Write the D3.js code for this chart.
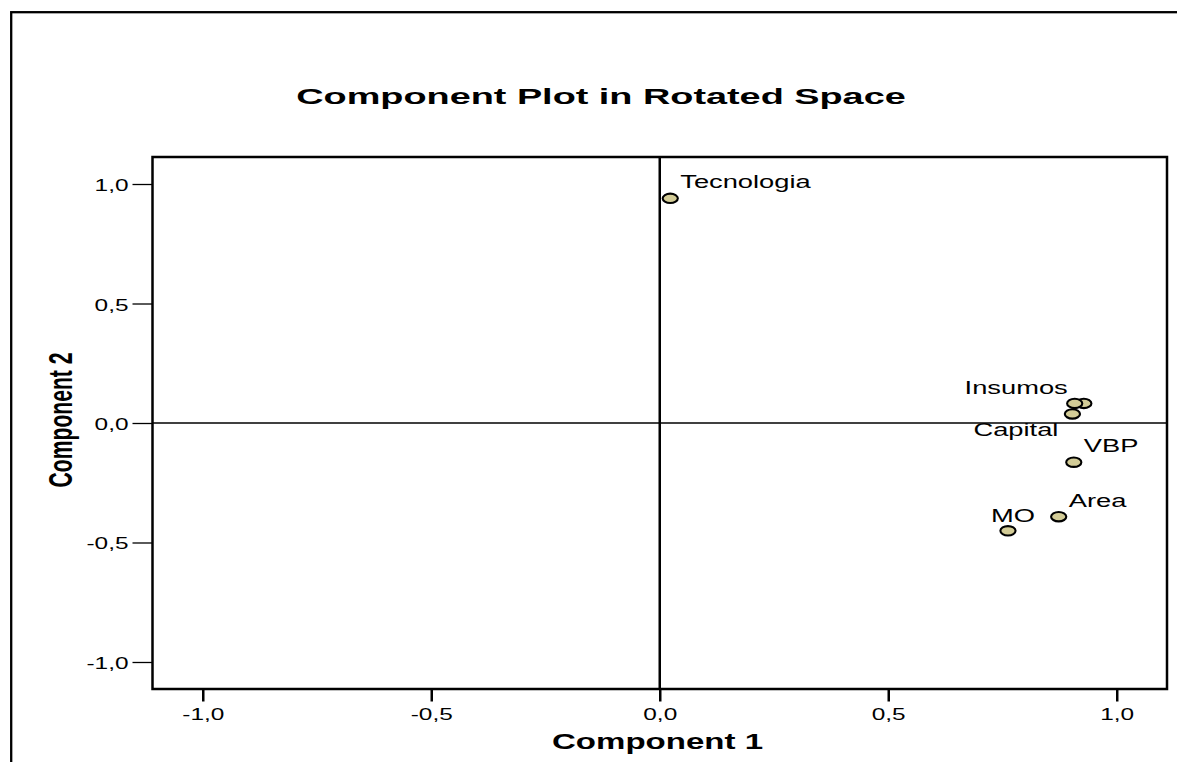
<!DOCTYPE html>
<html>
<head>
<meta charset="utf-8">
<script src="https://cdn.jsdelivr.net/npm/d3@7"></script>
<style>
  body { margin: 0; background: #fff; }
  text { font-family: "Liberation Sans", Arial, sans-serif; fill: #000; }
</style>
</head>
<body>
<div class="chart"></div>
<script>
// rotated component loadings (one label hidden by overlap in the original)
const variables = ["", "Insumos", "Capital", "Tecnologia", "VBP", "Area", "MO"];
const component1 = [0.928, 0.908, 0.903, 0.023, 0.906, 0.873, 0.762];
const component2 = [0.082, 0.082, 0.038, 0.94, -0.164, -0.392, -0.451];
const tickValues = [-1, -0.5, 0, 0.5, 1];
const tickLabels = ["-1,0", "-0,5", "0,0", "0,5", "1,0"];

// where each label sits next to its marker: [dx, dy, anchor]
const labelPlacement = [
   [0, 0, "start"],
   [-7, -9, "end"],
   [-14, 22, "end"],
   [10, -10, "start"],
   [10, -10, "start"],
   [10, -10, "start"],
   [-17, -9, "start"]
];

// setup chart
const width = 1177;
const height = 762;
const plot = { left: 152.5, right: 1167, top: 157, bottom: 689 };
// the original picture is stretched sideways
const stretch = 1.56;

const svg = d3
   .select(".chart")
   .append("svg")
   .attr("width", width)
   .attr("height", height)
   .style("display", "block");

// outer frame (cut off at right and bottom)
svg.append("rect")
   .attr("x", 11.2)
   .attr("y", 12.2)
   .attr("width", width + 100)
   .attr("height", height + 100)
   .attr("fill", "none")
   .attr("stroke", "#000")
   .attr("stroke-width", 2.3);

const xScale = d3.scaleLinear().domain([-1.11, 1.11]).range([plot.left, plot.right]);
const yScale = d3.scaleLinear().domain([-1.113, 1.113]).range([plot.bottom, plot.top]);
const fmt = (d) => tickLabels[tickValues.indexOf(d)];

// y axis
svg.append("g")
   .attr("transform", `translate(${plot.left}, 0)`)
   .call(d3.axisLeft(yScale).tickValues(tickValues).tickFormat(fmt).tickSize(20).tickSizeOuter(0))
   .call((g) => g.select(".domain").remove())
   .call((g) => g.selectAll(".tick line").attr("stroke-width", 1.3))
   .call((g) =>
      g.selectAll(".tick text")
         .attr("x", null)
         .attr("dy", null)
         .attr("font-size", 16.5)
         .attr("transform", `translate(-24, 6.5) scale(1.48, 1)`)
   );

// x axis
svg.append("g")
   .attr("transform", `translate(0, ${plot.bottom})`)
   .call(d3.axisBottom(xScale).tickValues(tickValues).tickFormat(fmt).tickSize(12.5).tickSizeOuter(0))
   .call((g) => g.select(".domain").remove())
   .call((g) => g.selectAll(".tick line").attr("stroke-width", 2.5))
   .call((g) =>
      g.selectAll(".tick text")
         .attr("y", null)
         .attr("dy", null)
         .attr("font-size", 16.5)
         .attr("transform", `translate(0, 31) scale(1.48, 1)`)
   );

// zero reference lines
svg.append("line")
   .attr("x1", plot.left)
   .attr("x2", plot.right)
   .attr("y1", yScale(0))
   .attr("y2", yScale(0))
   .attr("stroke", "#000")
   .attr("stroke-width", 1.5);
svg.append("line")
   .attr("x1", xScale(0))
   .attr("x2", xScale(0))
   .attr("y1", plot.top)
   .attr("y2", plot.bottom)
   .attr("stroke", "#000")
   .attr("stroke-width", 2.5);

// plot frame
svg.append("rect")
   .attr("x", plot.left)
   .attr("y", plot.top)
   .attr("width", plot.right - plot.left)
   .attr("height", plot.bottom - plot.top)
   .attr("fill", "none")
   .attr("stroke", "#000")
   .attr("stroke-width", 2.5);

const points = variables.map((name, i) => ({
   name,
   c1: component1[i],
   c2: component2[i],
   place: labelPlacement[i]
}));

// markers
svg.selectAll("ellipse")
   .data(points)
   .enter()
   .append("ellipse")
   .attr("cx", (d) => xScale(d.c1))
   .attr("cy", (d) => yScale(d.c2))
   .attr("rx", 7.6)
   .attr("ry", 4.7)
   .attr("fill", "#d3cc97")
   .attr("stroke", "#000")
   .attr("stroke-width", 2.1);

// variable labels
svg.selectAll(".label")
   .data(points.filter((d) => d.name))
   .enter()
   .append("text")
   .attr("class", "label")
   .attr("font-size", 17.5)
   .attr("text-anchor", (d) => d.place[2])
   .attr("transform", (d) =>
      `translate(${xScale(d.c1) + d.place[0]}, ${yScale(d.c2) + d.place[1]}) scale(${stretch}, 1)`)
   .text((d) => d.name);

// title
svg.append("text")
   .attr("font-size", 22)
   .attr("font-weight", "bold")
   .attr("text-anchor", "middle")
   .attr("transform", "translate(601, 103.5) scale(1.72, 1)")
   .text("Component Plot in Rotated Space");

// axis titles
svg.append("text")
   .attr("font-size", 21.6)
   .attr("font-weight", "bold")
   .attr("text-anchor", "middle")
   .attr("transform", "translate(657.5, 748.5) scale(1.53, 1)")
   .text("Component 1");

svg.append("text")
   .attr("font-size", 22)
   .attr("font-weight", "bold")
   .attr("text-anchor", "middle")
   .attr("transform", "translate(71.5, 420) rotate(-90) scale(0.96, 1.5)")
   .text("Component 2");
</script>
</body>
</html>
